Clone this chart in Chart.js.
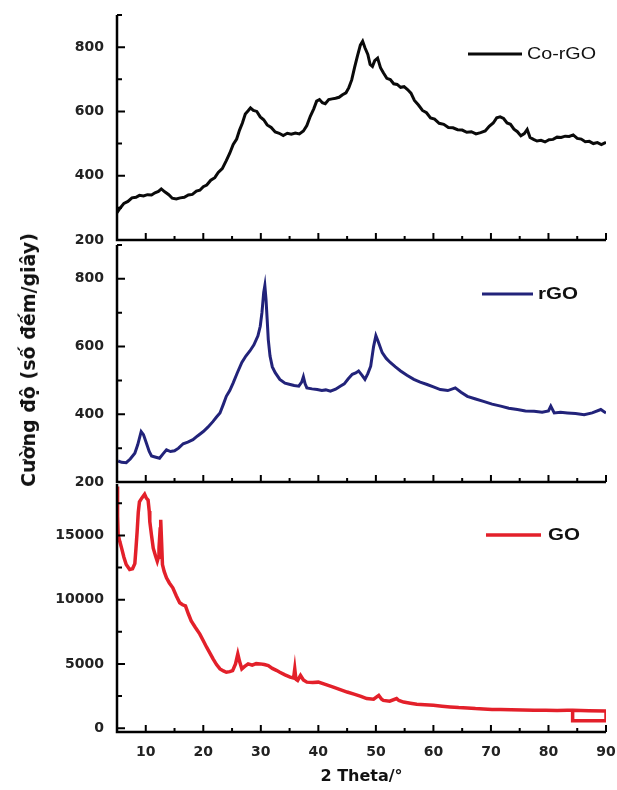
<!DOCTYPE html>
<html lang="vi">
<head>
<meta charset="UTF-8">
<title>XRD Co-rGO / rGO / GO</title>
<script src="https://cdn.jsdelivr.net/npm/chart.js"></script>
<style>
  body { margin: 0; background: #fff; }
  #wrap { position: relative; width: 617px; height: 790px; overflow: hidden; }
  .panel { position: absolute; left: 0; width: 617px; }
  #ytitle { position: absolute; left: 28px; top: 360px; transform: translate(-50%, -50%) rotate(-90deg);
            font: bold 19px "DejaVu Sans", sans-serif; color: #111; white-space: nowrap; }
</style>
</head>
<body>
<div id="wrap">
  <div class="panel" style="top:0;height:250px"><canvas id="c1"></canvas></div>
  <div class="panel" style="top:240px;height:255px"><canvas id="c2"></canvas></div>
  <div class="panel" style="top:480px;height:310px"><canvas id="c3"></canvas></div>
  <div id="ytitle">Cường độ (số đếm/giây)</div>
</div>
<script>
// 2θ (deg) vs counts
const coRgoData = [[5,285],[5.5,298],[6.2,314],[6.9,320],[7.6,331],[8.3,333],[8.9,339],[9.6,337],[10.3,341],[11.0,340],
  [11.6,347],[12.2,351],[12.7,359],[13.3,350],[14.0,341],[14.6,330],[15.3,328],[16.0,331],[16.7,333],[17.4,340],
  [18.1,342],[18.8,352],[19.4,355],[20.0,366],[20.6,371],[21.3,386],[22.0,394],[22.6,410],[23.3,422],[24.0,447],
  [24.6,470],[25.2,497],[25.8,514],[26.3,542],[26.8,564],[27.3,592],[27.8,602],[28.2,611],[28.7,603],[29.3,600],
  [29.9,583],[30.5,574],[31.1,558],[31.8,550],[32.5,536],[33.2,532],[33.9,525],[34.6,532],[35.3,529],[36.0,533],
  [36.7,530],[37.4,539],[38.0,556],[38.6,585],[39.2,608],[39.7,632],[40.2,637],[40.7,627],[41.2,624],[41.8,637],
  [42.4,639],[43.0,641],[43.6,644],[44.2,652],[44.8,658],[45.3,674],[45.8,698],[46.3,737],[46.8,773],[47.3,806],
  [47.7,818],[48.1,798],[48.6,777],[49.0,746],[49.4,740],[49.8,758],[50.3,766],[50.8,736],[51.3,720],[51.9,703],
  [52.5,699],[53.1,686],[53.7,684],[54.3,675],[54.9,677],[55.5,668],[56.1,657],[56.7,634],[57.4,620],[58.1,603],
  [58.8,596],[59.5,580],[60.2,576],[61.0,563],[61.8,560],[62.6,550],[63.4,549],[64.2,543],[65.0,542],[65.8,535],
  [66.6,537],[67.4,530],[68.2,534],[69.0,539],[69.7,554],[70.4,564],[71.0,580],[71.6,583],[72.2,578],[72.8,564],
  [73.4,560],[74.0,545],[74.6,537],[75.2,524],[75.8,531],[76.3,544],[76.8,519],[77.4,513],[78.0,508],[78.7,510],
  [79.4,505],[80.1,512],[80.8,513],[81.5,520],[82.2,519],[82.9,523],[83.6,522],[84.3,527],[85.0,516],[85.7,514],
  [86.4,506],[87.1,507],[87.8,500],[88.5,503],[89.2,497],[90,504]];

const rgoData = [[5.2,262],[5.8,258],[6.6,257],[7.3,268],[8.1,285],[8.6,310],[9.2,349],[9.6,340],[10.1,315],[10.6,290],
  [11.0,277],[11.6,274],[12.4,270],[13.0,283],[13.6,295],[14.3,290],[15.0,292],[15.7,300],[16.5,313],[17.3,318],
  [18.2,325],[19.0,336],[20.0,349],[20.8,362],[21.7,379],[22.3,392],[22.9,404],[23.5,430],[24.0,453],[24.6,470],
  [25.2,493],[25.9,522],[26.7,553],[27.4,572],[28.1,587],[28.8,605],[29.5,632],[29.9,660],[30.2,701],[30.5,760],
  [30.7,780],[30.9,740],[31.1,681],[31.3,620],[31.6,572],[32.0,540],[32.5,523],[33.3,503],[34.2,492],[35.1,488],
  [35.8,485],[36.6,483],[37.1,495],[37.4,511],[37.7,490],[38.0,478],[38.9,475],[39.8,473],[40.6,470],[41.3,472],
  [42.1,468],[43.0,474],[43.8,483],[44.5,490],[45.2,505],[45.9,518],[46.5,522],[47.0,528],[47.6,515],[48.1,503],
  [48.6,520],[49.1,542],[49.6,600],[50.0,632],[50.4,615],[51.1,582],[51.8,565],[52.5,553],[53.4,540],[54.3,528],
  [55.4,515],[56.6,503],[57.7,495],[58.9,488],[60.0,481],[61.2,473],[62.5,470],[63.8,478],[64.8,465],[65.9,453],
  [67.2,446],[68.7,438],[70.2,430],[71.7,424],[73.1,418],[74.6,414],[76.0,410],[77.5,409],[78.9,406],[80.0,410],
  [80.4,424],[81.0,404],[82.1,406],[83.3,404],[84.7,402],[86.2,399],[87.6,404],[89.1,414],[90,404]];

const goData = [[5.0,18800],[5.1,16500],[5.2,15050],[5.5,14500],[5.8,14010],[6.2,13300],[6.6,12730],[7.2,12340],
  [7.7,12400],[8.1,12800],[8.3,14000],[8.5,15300],[8.7,16800],[8.9,17620],[9.3,17900],[9.8,18200],[10.1,17900],
  [10.4,17750],[10.6,16900],[10.7,16080],[11.0,15000],[11.3,14010],[11.7,13400],[12.0,12990],[12.2,13300],
  [12.3,14010],[12.5,15500],[12.6,16210],[12.75,14500],[12.9,12730],[13.2,12200],[13.6,11700],[14.1,11300],
  [14.7,10920],[15.3,10300],[15.9,9760],[16.4,9600],[16.9,9510],[17.4,8900],[17.9,8350],[18.6,7850],[19.4,7320],
  [20.0,6800],[20.6,6280],[21.2,5800],[21.7,5390],[22.3,4950],[22.9,4610],[23.5,4450],[24.0,4350],[24.6,4400],
  [25.1,4480],[25.6,5000],[26.0,5770],[26.3,5200],[26.7,4610],[27.2,4800],[27.8,5000],[28.5,4900],[29.2,5020],
  [29.9,5000],[30.6,4950],[31.3,4870],[32.0,4650],[32.7,4500],[33.3,4350],[34.2,4150],[35.1,3970],[35.7,3900],
  [35.9,4610],[36.1,3800],[36.4,3710],[36.9,4100],[37.4,3750],[38.0,3580],[39.0,3550],[40.0,3580],[41.2,3400],
  [42.6,3190],[43.8,3000],[45.0,2810],[46.2,2650],[47.4,2480],[48.4,2300],[49.6,2250],[50.5,2550],[51.0,2250],
  [51.3,2160],[52.4,2100],[53.6,2300],[54.0,2150],[54.8,2030],[56.0,1940],[57.1,1860],[58.5,1820],[60.0,1780],
  [61.5,1710],[62.9,1650],[64.4,1600],[65.9,1570],[67.3,1520],[68.7,1490],[70.2,1460],[71.7,1450],[73.5,1430],
  [75.5,1410],[77.5,1390],[79.5,1390],[81.5,1380],[83.3,1390],[84.2,1390],[87.0,1360],[90.0,1340],
  [90.0,570],[84.2,570],[84.2,1390]];

const xMajor = [10, 20, 30, 40, 50, 60, 70, 80, 90];
const xMinor = [15, 25, 35, 45, 55, 65, 75, 85];
const yMajorTop = [200, 400, 600, 800];
const yMinorTop = [300, 500, 700, 900];
const yMajorGo = [0, 5000, 10000, 15000];
const yMinorGo = [2500, 7500, 12500, 17500];

const tickFont = { family: 'DejaVu Sans', size: 14, weight: 'bold' };

// axes with inward ticks + inline legend
const panelDecor = {
  id: 'panelDecor',
  afterDatasetsDraw(chart, args, o) {
    const { ctx, chartArea: a, scales: { x, y } } = chart;
    ctx.save();
    ctx.strokeStyle = '#000';
    ctx.lineWidth = 2.5;
    ctx.beginPath();
    ctx.moveTo(a.left, a.top);
    ctx.lineTo(a.left, a.bottom);
    ctx.lineTo(a.right, a.bottom);
    ctx.stroke();
    ctx.lineWidth = 2;
    ctx.beginPath();
    xMajor.forEach(v => { const p = x.getPixelForValue(v); ctx.moveTo(p, a.bottom); ctx.lineTo(p, a.bottom - 7); });
    xMinor.forEach(v => { const p = x.getPixelForValue(v); ctx.moveTo(p, a.bottom); ctx.lineTo(p, a.bottom - 4); });
    o.yMajor.forEach(v => { const p = y.getPixelForValue(v); ctx.moveTo(a.left, p); ctx.lineTo(a.left + 8, p); });
    o.yMinor.forEach(v => { const p = y.getPixelForValue(v); ctx.moveTo(a.left, p); ctx.lineTo(a.left + 5, p); });
    ctx.stroke();

    const ds = chart.data.datasets[0];
    ctx.strokeStyle = ds.borderColor;
    ctx.lineWidth = ds.borderWidth;
    ctx.beginPath();
    ctx.moveTo(o.lx1, o.ly);
    ctx.lineTo(o.lx2, o.ly);
    ctx.stroke();
    ctx.fillStyle = '#111';
    ctx.font = (o.bold ? 'bold ' : '') + '16px "Liberation Sans", Arial';
    ctx.textBaseline = 'middle';
    const w = ctx.measureText(ds.label).width;
    ctx.translate(o.tx, o.ly + 1);
    ctx.scale(o.tw / w, 1);
    ctx.fillText(ds.label, 0, 0);
    ctx.restore();
  }
};

function makePanel(id, label, data, color, width, yMin, yMax, yMajor, yMinor, pad, legend, showX) {
  new Chart(document.getElementById(id), {
    type: 'line',
    data: {
      datasets: [{
        label: label,
        data: data.map(p => ({ x: p[0], y: p[1] })),
        borderColor: color,
        borderWidth: width,
        pointRadius: 0,
        tension: 0
      }]
    },
    options: {
      responsive: true,
      maintainAspectRatio: false,
      animation: false,
      layout: { padding: pad },
      plugins: {
        legend: { display: false },
        tooltip: { enabled: false },
        panelDecor: Object.assign({ yMajor: yMajor, yMinor: yMinor }, legend)
      },
      scales: {
        x: {
          type: 'linear',
          min: 5, max: 90,
          display: showX,
          afterBuildTicks: s => { s.ticks = xMajor.map(v => ({ value: v })); },
          afterFit: s => {
            if (showX) s.height = 58;
            s.paddingLeft = 0; s.paddingRight = 0;
          },
          grid: { display: false, drawTicks: false },
          border: { display: false },
          ticks: { font: tickFont, color: '#222', padding: 12, maxRotation: 0, callback: v => String(v) },
          title: {
            display: showX,
            text: '2 Theta/°',
            color: '#111',
            font: { family: 'DejaVu Sans', size: 16, weight: 'bold' },
            padding: { top: 0, bottom: 4 }
          }
        },
        y: {
          min: yMin, max: yMax,
          afterBuildTicks: s => { s.ticks = yMajor.map(v => ({ value: v })); },
          afterFit: s => {
            s.width = 117;
            s.paddingTop = 0; s.paddingBottom = 0;
          },
          grid: { display: false, drawTicks: false },
          border: { display: false },
          ticks: { font: tickFont, color: '#222', padding: 13, callback: v => String(v) }
        }
      }
    },
    plugins: [panelDecor]
  });
}

makePanel('c1', 'Co-rGO', coRgoData, '#0a0a0a', 3, 200, 900, yMajorTop, yMinorTop,
  { top: 15, bottom: 10, left: 0, right: 11 }, { lx1: 468, lx2: 522, ly: 54, tx: 527, tw: 69, bold: false }, false);
makePanel('c2', 'rGO', rgoData, '#22237a', 3, 200, 900, yMajorTop, yMinorTop,
  { top: 5, bottom: 13, left: 0, right: 11 }, { lx1: 482, lx2: 533, ly: 54, tx: 538, tw: 40, bold: true }, false);
makePanel('c3', 'GO', goData, '#e3202a', 3.5, -300, 19000, yMajorGo, yMinorGo,
  { top: 4, bottom: 0, left: 0, right: 11 }, { lx1: 486, lx2: 541, ly: 55, tx: 548, tw: 32, bold: true }, true);
</script>
</body>
</html>
